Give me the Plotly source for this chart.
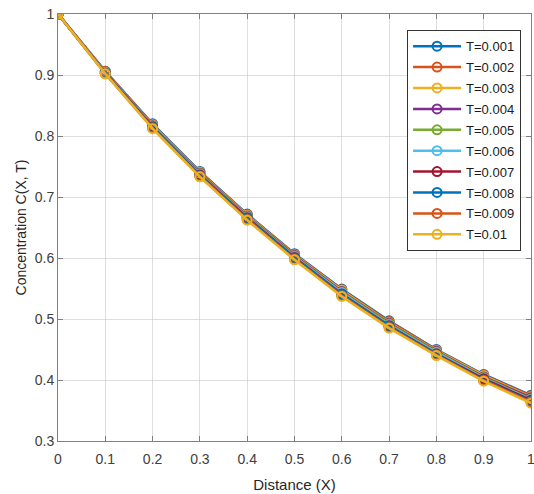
import plotly.graph_objects as go

# Distância e concentração para cada T
distancia = [0, 0.1, 0.2, 0.3, 0.4, 0.5, 0.6, 0.7, 0.8, 0.9, 1.0]
rotulos = ['T=0.001', 'T=0.002', 'T=0.003', 'T=0.004', 'T=0.005',
           'T=0.006', 'T=0.007', 'T=0.008', 'T=0.009', 'T=0.01']

c_001 = [1, 0.906, 0.820, 0.742, 0.672, 0.607, 0.549, 0.497, 0.450, 0.409, 0.375]
c_002 = [1, 0.906, 0.819, 0.741, 0.671, 0.606, 0.548, 0.496, 0.449, 0.408, 0.374]
c_003 = [1, 0.905, 0.818, 0.740, 0.670, 0.605, 0.547, 0.494, 0.448, 0.407, 0.372]
c_004 = [1, 0.905, 0.817, 0.739, 0.669, 0.604, 0.545, 0.493, 0.447, 0.405, 0.371]
c_005 = [1, 0.904, 0.816, 0.738, 0.668, 0.603, 0.544, 0.492, 0.446, 0.404, 0.369]
c_006 = [1, 0.904, 0.816, 0.737, 0.667, 0.602, 0.543, 0.490, 0.445, 0.403, 0.368]
c_007 = [1, 0.903, 0.815, 0.736, 0.666, 0.601, 0.541, 0.489, 0.443, 0.402, 0.367]
c_008 = [1, 0.903, 0.814, 0.735, 0.665, 0.600, 0.540, 0.488, 0.442, 0.400, 0.365]
c_009 = [1, 0.902, 0.813, 0.734, 0.663, 0.598, 0.538, 0.486, 0.441, 0.399, 0.364]
c_010 = [1, 0.902, 0.812, 0.733, 0.662, 0.597, 0.537, 0.485, 0.440, 0.398, 0.362]

series = [c_001, c_002, c_003, c_004, c_005, c_006, c_007, c_008, c_009, c_010]

x_ticks = [0, 0.1, 0.2, 0.3, 0.4, 0.5, 0.6, 0.7, 0.8, 0.9, 1]
x_ticktext = ['0', '0.1', '0.2', '0.3', '0.4', '0.5', '0.6', '0.7', '0.8', '0.9', '1']
y_ticks = [0.3, 0.4, 0.5, 0.6, 0.7, 0.8, 0.9, 1]
y_ticktext = ['0.3', '0.4', '0.5', '0.6', '0.7', '0.8', '0.9', '1']

# Cores padrão do MATLAB
cores = ['#0072BD', '#D95319', '#EDB120', '#7E2F8E', '#77AC30',
         '#4DBEEE', '#A2142F', '#0072BD', '#D95319', '#EDB120']

fig = go.Figure()
for nome, valores, cor in zip(rotulos, series, cores):
    fig.add_trace(go.Scatter(
        x=distancia,
        y=valores,
        name=nome,
        legendgroup=nome,  # um grupo por série para espaçar a legenda
        mode='lines+markers',
        line=dict(color=cor, width=2.5),
        marker=dict(symbol='circle-open', size=9, color=cor, line=dict(width=2))
    ))

eixo = dict(
    showline=True,
    linecolor='#808080',
    linewidth=1,
    mirror='ticks',
    ticks='inside',
    ticklen=5,
    tickcolor='#808080',
    showgrid=True,
    gridcolor='rgba(200, 200, 200, 0.6)',
    gridwidth=1,
    zeroline=False,
    automargin=False,
    ticklabeloverflow='allow',
    tickfont=dict(size=14, color='#404040')
)

fig.update_layout(
    width=534,
    height=494,
    margin=dict(l=58, r=3, t=14, b=53),
    paper_bgcolor='white',
    plot_bgcolor='white',
    font=dict(family='Liberation Sans, Arial, sans-serif', color='#262626'),
    xaxis=dict(eixo, range=[0, 1], tickvals=x_ticks, ticktext=x_ticktext,
               ticklabelstandoff=5,
               title=dict(text='Distance (X)', font=dict(size=15), standoff=13)),
    yaxis=dict(eixo, range=[0.3, 1], tickvals=y_ticks, ticktext=y_ticktext,
               title=dict(text='Concentration C(X, T)', font=dict(size=14), standoff=4)),
    legend=dict(
        x=0.738, y=0.962,
        xanchor='left', yanchor='top',
        bgcolor='white',
        bordercolor='#333333',
        borderwidth=1,
        font=dict(size=13, color='#1a1a1a'),
        itemwidth=48,
        tracegroupgap=1
    ),
    showlegend=True
)

# tirar a margem padrão do body para a figura ocupar a janela inteira
fig.write_html(
    "out.html",
    config={'displayModeBar': False},
    post_script="document.body.style.margin='0';"
)
